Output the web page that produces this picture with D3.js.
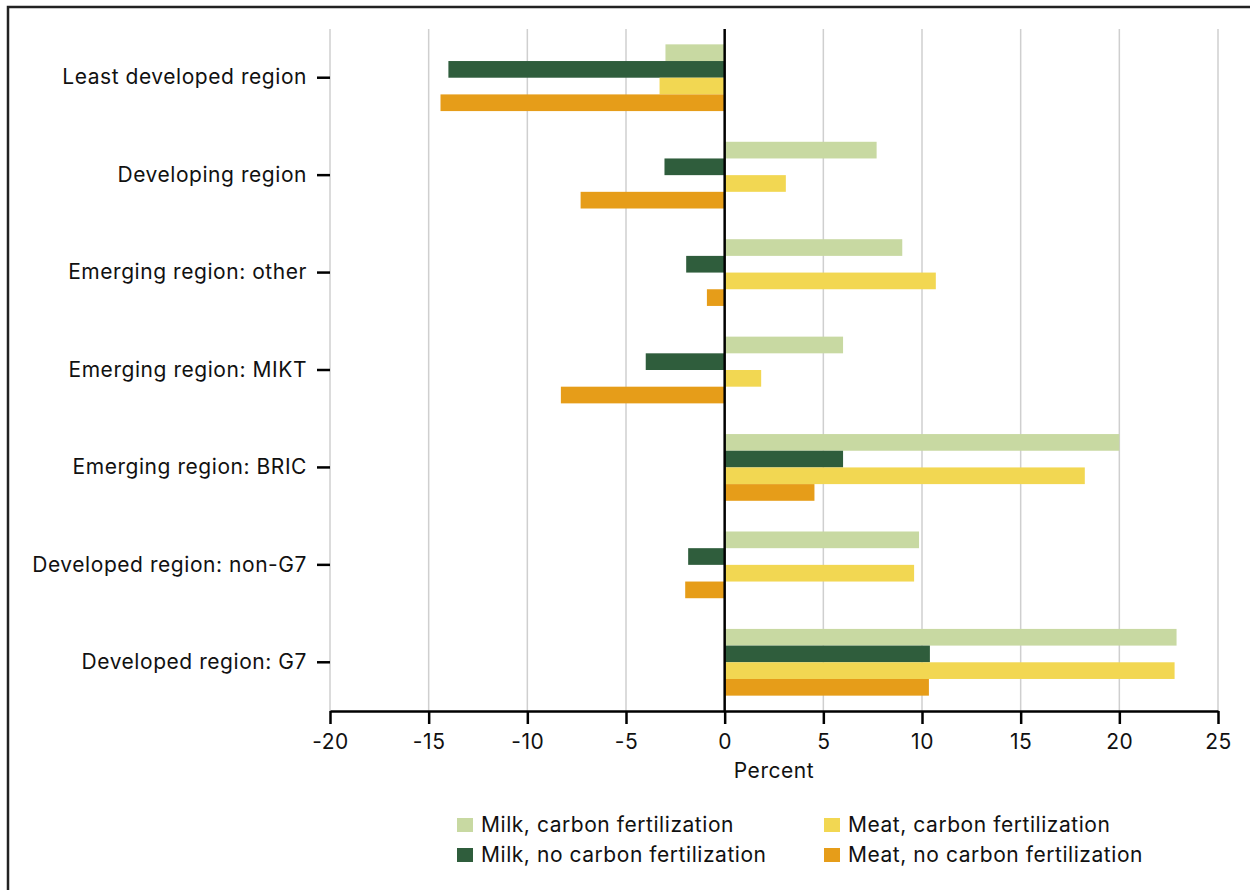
<!DOCTYPE html>
<html>
  <head>
    <meta charset="utf-8">
    <style>
      body {
        margin: 0;
        background: #fff;
        font-family: Inter, "Liberation Sans", Arial, sans-serif;
      }
      .label {
        font-size: 21px;
        letter-spacing: 0.55px;
        fill: #111;
      }
      .grid line {
        stroke: #cfcfcf;
        stroke-width: 1.5;
      }
    </style>
  </head>
  <body>
    <script src="https://d3js.org/d3.v7.min.js"></script>
    <script>
      const categories = [
        'Least developed region',
        'Developing region',
        'Emerging region: other',
        'Emerging region: MIKT',
        'Emerging region: BRIC',
        'Developed region: non-G7',
        'Developed region: G7'
      ];
      const seriesNames = [
        'Milk, carbon fertilization',
        'Milk, no carbon fertilization',
        'Meat, carbon fertilization',
        'Meat, no carbon fertilization'
      ];
      const milkCF   = [-3.0, 7.7, 9.0, 6.0, 20.0, 9.85, 22.9];
      const milkNoCF = [-14.0, -3.05, -1.95, -4.0, 6.0, -1.85, 10.4];
      const meatCF   = [-3.3, 3.1, 10.7, 1.85, 18.25, 9.6, 22.8];
      const meatNoCF = [-14.4, -7.3, -0.9, -8.3, 4.55, -2.0, 10.35];
      const xTicks = [-20, -15, -10, -5, 0, 5, 10, 15, 20, 25];
      const colors = ['#c8d9a2', '#2f5d3c', '#f2d752', '#e69d19'];

      const allSeries = [milkCF, milkNoCF, meatCF, meatNoCF];
      const data = [];
      categories.forEach((c, i) => {
        seriesNames.forEach((s, j) => {
          data.push({ cat: c, series: s, value: allSeries[j][i] });
        });
      });

      const width = 1250, height = 890;
      const margin = { top: 29, left: 330, right: 32, bottom: 179 };
      const plotW = width - margin.left - margin.right;
      const plotH = height - margin.top - margin.bottom;

      const svg = d3.select('body').append('svg')
        .attr('width', width)
        .attr('height', height);

      // frame
      svg.append('path')
        .attr('d', 'M8,' + (height + 5) + ' V7 H' + (width + 5))
        .attr('fill', 'none')
        .attr('stroke', '#222')
        .attr('stroke-width', 2.5);

      const g = svg.append('g')
        .attr('transform', 'translate(' + margin.left + ',' + margin.top + ')');

      const x = d3.scaleLinear()
        .domain([-20, 25])
        .range([0, plotW]);

      const y0 = d3.scaleBand()
        .domain(categories)
        .range([0, plotH])
        .padding(0);

      const y1 = d3.scaleBand()
        .domain(seriesNames)
        .range([0, y0.bandwidth()])
        .paddingInner(0)
        .paddingOuter(0.92);

      const color = d3.scaleOrdinal()
        .domain(seriesNames)
        .range(colors);

      // grid
      g.append('g')
        .attr('class', 'grid')
        .selectAll('line')
        .data(xTicks.filter(d => d !== 0))
        .join('line')
        .attr('x1', d => x(d))
        .attr('x2', d => x(d))
        .attr('y1', 0)
        .attr('y2', plotH);

      // bars
      g.append('g')
        .selectAll('rect')
        .data(data)
        .join('rect')
        .attr('x', d => x(Math.min(0, d.value)))
        .attr('y', d => y0(d.cat) + y1(d.series))
        .attr('width', d => Math.abs(x(d.value) - x(0)))
        .attr('height', y1.bandwidth())
        .attr('fill', d => color(d.series));

      // zero line
      g.append('line')
        .attr('x1', x(0))
        .attr('x2', x(0))
        .attr('y1', 0)
        .attr('y2', plotH)
        .attr('stroke', '#000')
        .attr('stroke-width', 2.5);

      // x axis
      const xAxis = g.append('g')
        .attr('transform', 'translate(0,' + plotH + ')')
        .call(d3.axisBottom(x)
          .tickValues(xTicks)
          .tickFormat(d => String(d))
          .tickSize(13)
          .tickPadding(10)
          .tickSizeOuter(0));
      xAxis.attr('font-family', null).attr('font-size', null);
      xAxis.select('.domain').attr('stroke', '#000').attr('stroke-width', 2.5);
      xAxis.selectAll('.tick line').attr('stroke', '#000').attr('stroke-width', 2.5);
      xAxis.selectAll('.tick text').attr('class', 'label');

      // y axis
      const yAxis = g.append('g')
        .call(d3.axisLeft(y0).tickSize(13).tickPadding(10));
      yAxis.attr('font-family', null).attr('font-size', null);
      yAxis.select('.domain').remove();
      yAxis.selectAll('.tick line').attr('stroke', '#000').attr('stroke-width', 2.5);
      yAxis.selectAll('.tick text').attr('class', 'label');

      // axis title
      g.append('text')
        .attr('class', 'label')
        .attr('x', plotW / 2)
        .attr('y', plotH + 67)
        .attr('text-anchor', 'middle')
        .text('Percent');

      // legend
      const legendPos = [[457, 818], [457, 848], [824, 818], [824, 848]];
      const legend = svg.append('g')
        .selectAll('g')
        .data(seriesNames)
        .join('g')
        .attr('transform', (d, i) => 'translate(' + legendPos[i][0] + ',' + legendPos[i][1] + ')');
      legend.append('rect')
        .attr('width', 16)
        .attr('height', 14)
        .attr('fill', d => color(d));
      legend.append('text')
        .attr('class', 'label')
        .attr('x', 24)
        .attr('y', 14)
        .text(d => d);
    </script>
  </body>
</html>
